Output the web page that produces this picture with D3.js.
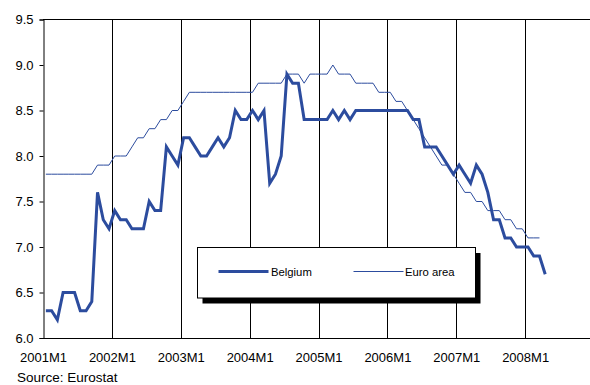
<!DOCTYPE html>
<html>
<head>
<meta charset="utf-8">
<script src="https://cdn.jsdelivr.net/npm/d3@7"></script>
<style>
  html, body { margin: 0; padding: 0; background: #fff; }
  svg { display: block; font-family: "Liberation Sans", Arial, Helvetica, sans-serif; }
</style>
</head>
<body>
<svg id="chart" width="590" height="385"></svg>
<script>
// Monthly series, January 2001 onward (%)
const belgium = [
  6.3, 6.3, 6.2, 6.5, 6.5, 6.5, 6.3, 6.3, 6.4, 7.6, 7.3, 7.2,
  7.4, 7.3, 7.3, 7.2, 7.2, 7.2, 7.5, 7.4, 7.4, 8.1, 8.0, 7.9,
  8.2, 8.2, 8.1, 8.0, 8.0, 8.1, 8.2, 8.1, 8.2, 8.5, 8.4, 8.4,
  8.5, 8.4, 8.5, 7.7, 7.8, 8.0, 8.9, 8.8, 8.8, 8.4, 8.4, 8.4,
  8.4, 8.4, 8.5, 8.4, 8.5, 8.4, 8.5, 8.5, 8.5, 8.5, 8.5, 8.5,
  8.5, 8.5, 8.5, 8.5, 8.4, 8.4, 8.1, 8.1, 8.1, 8.0, 7.9, 7.8,
  7.9, 7.8, 7.7, 7.9, 7.8, 7.6, 7.3, 7.3, 7.1, 7.1, 7.0, 7.0,
  7.0, 6.9, 6.9, 6.7
];
const euroArea = [
  7.8, 7.8, 7.8, 7.8, 7.8, 7.8, 7.8, 7.8, 7.8, 7.9, 7.9, 7.9,
  8.0, 8.0, 8.0, 8.1, 8.2, 8.2, 8.3, 8.3, 8.4, 8.4, 8.5, 8.5,
  8.6, 8.7, 8.7, 8.7, 8.7, 8.7, 8.7, 8.7, 8.7, 8.7, 8.7, 8.7,
  8.7, 8.8, 8.8, 8.8, 8.8, 8.8, 8.9, 8.9, 8.9, 8.8, 8.9, 8.9,
  8.9, 8.9, 9.0, 8.9, 8.9, 8.9, 8.8, 8.8, 8.8, 8.8, 8.7, 8.7,
  8.7, 8.6, 8.6, 8.5, 8.4, 8.3, 8.2, 8.1, 8.0, 7.9, 7.9, 7.8,
  7.7, 7.6, 7.6, 7.5, 7.5, 7.4, 7.4, 7.4, 7.3, 7.3, 7.2, 7.2,
  7.1, 7.1, 7.1
];
const yearLabels = ["2001M1", "2002M1", "2003M1", "2004M1", "2005M1", "2006M1", "2007M1", "2008M1"];
const yTicks = [6.0, 6.5, 7.0, 7.5, 8.0, 8.5, 9.0, 9.5];
const seriesNames = ["Belgium", "Euro area"];

const blue = "#2c4c9e";
const svg = d3.select("#chart");

const plotLeft = 43, plotTop = 19.5, plotBottom = 338;
const monthCount = 96;
// month boundaries on x; points sit in the middle of each month
const x = d3.scaleLinear().domain([0, monthCount]).range([plotLeft, 594]);
const y = d3.scaleLinear().domain([6.0, 9.5]).range([plotBottom, plotTop]);

// yearly vertical gridlines
svg.append("g")
  .selectAll("line")
  .data(d3.range(1, yearLabels.length))
  .join("line")
  .attr("x1", d => Math.round(x(d * 12)) + 0.5)
  .attr("x2", d => Math.round(x(d * 12)) + 0.5)
  .attr("y1", plotTop).attr("y2", plotBottom)
  .attr("stroke", "#000").attr("stroke-width", 1);

// top border
svg.append("line")
  .attr("x1", plotLeft).attr("x2", 600)
  .attr("y1", plotTop).attr("y2", plotTop)
  .attr("stroke", "#000").attr("stroke-width", 1);

// y axis
const yAxis = d3.axisLeft(y).tickValues(yTicks).tickFormat(d3.format(".1f")).tickSize(4).tickPadding(6);
const gy = svg.append("g").attr("transform", `translate(${plotLeft + 0.5},0)`).call(yAxis);
gy.select(".domain").attr("stroke", "#000");
gy.selectAll(".tick line").attr("stroke", "#000");
gy.selectAll("text").attr("font-size", 13).attr("fill", "#000")
  .attr("font-family", "'Liberation Sans', Arial, sans-serif");

// x axis (year labels only)
const xAxis = d3.axisBottom(x)
  .tickValues(d3.range(0, yearLabels.length).map(k => k * 12))
  .tickFormat((d, i) => yearLabels[i])
  .tickSize(0).tickPadding(14);
const gx = svg.append("g").attr("transform", `translate(0,${plotBottom + 0.5})`).call(xAxis);
gx.select(".domain").attr("stroke", "#000").attr("d", `M${plotLeft},0H600`);
gx.selectAll("text").attr("font-size", 13).attr("fill", "#000")
  .attr("font-family", "'Liberation Sans', Arial, sans-serif");

// series lines
const line = d3.line()
  .x((d, i) => x(i + 0.5))
  .y(d => y(d));

svg.append("path")
  .datum(euroArea)
  .attr("fill", "none")
  .attr("stroke", blue)
  .attr("stroke-width", 1)
  .attr("d", line);

svg.append("path")
  .datum(belgium)
  .attr("fill", "none")
  .attr("stroke", blue)
  .attr("stroke-width", 3)
  .attr("d", line);

// legend with drop shadow
const lg = svg.append("g");
const bx = 197.5, by = 247.5, bw = 278, bh = 50.5;
lg.append("rect").attr("x", bx + 5).attr("y", by + 5.5).attr("width", bw).attr("height", bh).attr("fill", "#000");
lg.append("rect").attr("x", bx).attr("y", by).attr("width", bw).attr("height", bh)
  .attr("fill", "#fff").attr("stroke", "#000").attr("stroke-width", 1);

const legendItems = [
  { name: seriesNames[0], width: 3, x0: 218.5, x1: 268.5, tx: 271 },
  { name: seriesNames[1], width: 1, x0: 353.5, x1: 403.5, tx: 405 }
];
legendItems.forEach(it => {
  lg.append("line").attr("x1", it.x0).attr("x2", it.x1).attr("y1", 271.5).attr("y2", 271.5)
    .attr("stroke", blue).attr("stroke-width", it.width);
  lg.append("text").attr("x", it.tx).attr("y", 275.5)
    .attr("font-size", 11.3).attr("fill", "#000").text(it.name);
});

// source note
svg.append("text").attr("x", 17).attr("y", 382)
  .attr("font-size", 13.5).attr("fill", "#000").text("Source: Eurostat");
</script>
</body>
</html>
